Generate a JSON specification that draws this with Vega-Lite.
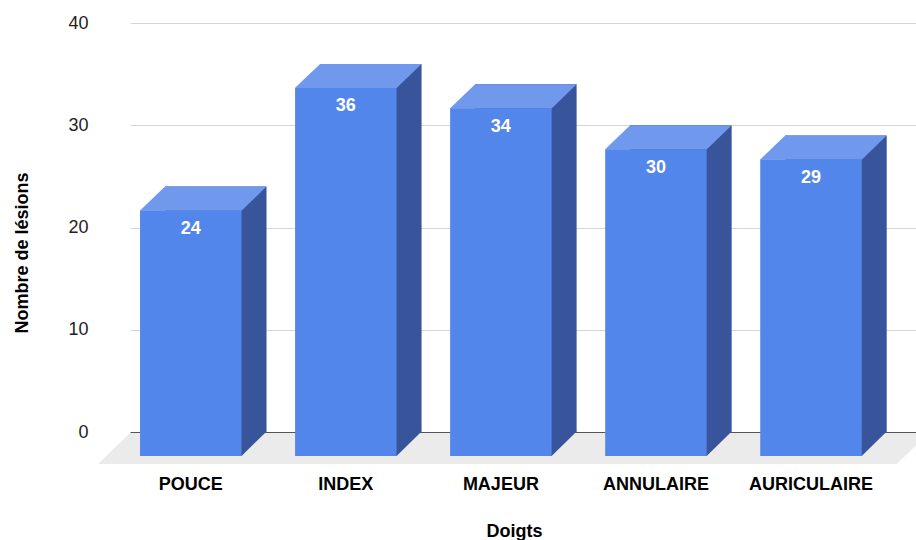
{
  "$schema": "https://vega.github.io/schema/vega-lite/v6.json",
  "width": 786,
  "height": 409,
  "autosize": {"type": "none"},
  "padding": {"left": 130, "top": 23, "right": 0, "bottom": 108},
  "background": "white",
  "config": {"view": {"stroke": null}, "font": "Liberation Sans"},
  "data": {
    "values": [
      {"doigt": "POUCE", "lesions": 24},
      {"doigt": "INDEX", "lesions": 36},
      {"doigt": "MAJEUR", "lesions": 34},
      {"doigt": "ANNULAIRE", "lesions": 30},
      {"doigt": "AURICULAIRE", "lesions": 29}
    ]
  },
  "encoding": {
    "x": {
      "field": "doigt",
      "type": "nominal",
      "scale": {
        "domain": ["POUCE", "INDEX", "MAJEUR", "ANNULAIRE", "AURICULAIRE"],
        "paddingInner": 0.3454,
        "paddingOuter": 0.2074,
        "align": 0.156
      },
      "axis": {
        "title": "Doigts",
        "labelAngle": 0,
        "labelFontSize": 18,
        "labelFontWeight": "bold",
        "labelColor": "#000000",
        "labelBaseline": "alphabetic",
        "labelPadding": 57,
        "ticks": false,
        "tickSize": 0,
        "domain": false,
        "titleFontSize": 18,
        "titleFontWeight": "bold",
        "titleColor": "#000000",
        "titleBaseline": "alphabetic",
        "titleAlign": "center",
        "titleX": 384,
        "titleY": 104.7
      }
    },
    "y": {
      "field": "lesions",
      "type": "quantitative",
      "scale": {"domain": [0, 40], "nice": false},
      "axis": {
        "title": "Nombre de lésions",
        "values": [0, 10, 20, 30, 40],
        "labelFontSize": 18,
        "labelColor": "#222222",
        "labelPadding": 42,
        "ticks": false,
        "tickSize": 0,
        "domain": false,
        "gridColor": {"condition": {"test": "datum.value === 0", "value": "#555555"}, "value": "#d6d6d6"},
        "gridWidth": 1,
        "titleFontSize": 18,
        "titleFontWeight": "bold",
        "titleColor": "#000000",
        "titleAngle": 270,
        "titleBaseline": "alphabetic",
        "titleAlign": "center",
        "titleX": -103,
        "titleY": 229.5
      }
    }
  },
  "layer": [
    {
      "transform": [{"filter": "datum.doigt === 'POUCE'"}],
      "mark": {"type": "point", "shape": "M -60.8 1 L 738 1 L 706 32 L -92.8 32 Z", "size": 4, "filled": true, "opacity": 1, "color": "#ebebeb", "strokeWidth": 0},
      "encoding": {
        "y": {"datum": 0, "type": "quantitative"}
      }
    },
    {
      "mark": {"type": "bar", "color": "#38559b", "xOffset": 25},
      "encoding": {"y2": {"datum": 0}}
    },
    {
      "mark": {"type": "point", "shape": "M -51 24.2 L 50.75 24.2 L 75.75 0 L -25.75 0 Z", "size": 4, "filled": true, "opacity": 1, "color": "#7099ed", "strokeWidth": 0},
      "encoding": {}
    },
    {
      "mark": {"type": "point", "shape": "M 50 -0.5 L 75.75 -0.5 L 50.75 24 L 50 24 Z", "size": 4, "filled": true, "opacity": 1, "color": "#38559b", "strokeWidth": 0},
      "encoding": {"y": {"datum": 0, "type": "quantitative"}}
    },
    {
      "mark": {"type": "bar", "color": "#5386ea", "yOffset": 24, "y2Offset": 24},
      "encoding": {"y2": {"datum": 0}}
    },
    {
      "mark": {"type": "text", "color": "white", "fontSize": 18, "fontWeight": "bold", "baseline": "alphabetic", "align": "center", "yOffset": 47.5},
      "encoding": {"text": {"field": "lesions", "type": "quantitative"}}
    }
  ]
}
